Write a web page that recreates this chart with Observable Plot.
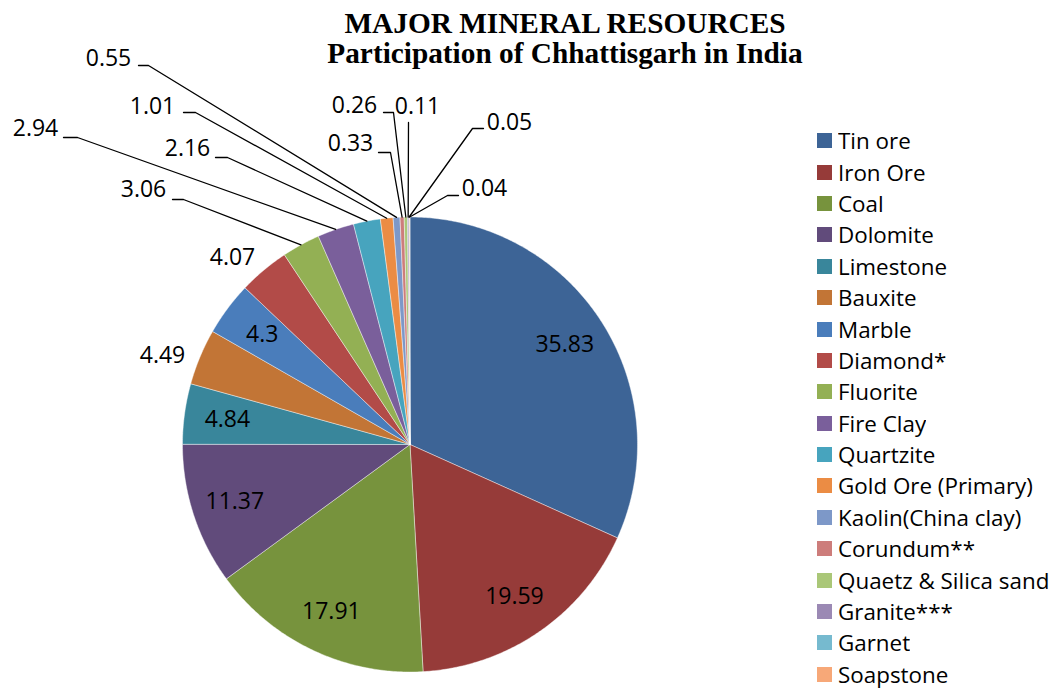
<!DOCTYPE html>
<html><head><meta charset="utf-8">
<script src="https://cdn.jsdelivr.net/npm/d3@7"></script>
<script src="https://cdn.jsdelivr.net/npm/@observablehq/plot@0.6"></script>
<style>
html,body{margin:0;padding:0;background:#fff;overflow:hidden;width:1059px;height:688px}
#wrap{position:relative;width:1059px;height:688px}
#chart{position:absolute;left:0;top:0}
#title{position:absolute;left:215px;width:700px;top:8px;text-align:center;font-family:"Liberation Serif","Times New Roman",serif;font-weight:bold;font-size:29.3px;line-height:30px;color:#000}
#legend{position:absolute;left:817px;top:125px;width:300px}
#legend > div{font-family:"Open Sans",sans-serif !important;font-size:22.4px !important;margin:0 !important;color:#000}
#legend > div > div{height:31.4px !important;padding:0 !important;display:flex;align-items:center}
#legend > div > div > svg{margin-right:6px !important}
</style></head>
<body><div id="wrap"><div id="chart"></div><div id="title">MAJOR MINERAL RESOURCES<br>Participation of Chhattisgarh in India</div><div id="legend"></div></div>
<script>
// ---- data ----
const minerals = ["Tin ore","Iron Ore","Coal","Dolomite","Limestone","Bauxite","Marble","Diamond*","Fluorite","Fire Clay","Quartzite","Gold Ore (Primary)","Kaolin(China clay)","Corundum**","Quaetz & Silica sand","Granite***","Garnet","Soapstone"];
const shares = [35.83,19.59,17.91,11.37,4.84,4.49,4.3,4.07,3.06,2.94,2.16,1.01,0.55,0.33,0.26,0.11,0.05,0.04];
const sliceColors = ["#3D6496","#963B39","#77933D","#614B7B","#39869B","#C27536","#4A7DBB","#B24B48","#93B054","#7A5F9B","#47A4BE","#EB8C44","#7D98C8","#CD7D7B","#AAC778","#9B89B4","#76BACF","#F7A878"];
const insideLabeled = ["Tin ore","Iron Ore","Coal","Dolomite","Limestone","Marble"];

// ---- layout (px offsets from pie centre: right, down) ----
const W = 1059, H = 688, CX = 409.5, CY = 444, R = 227.5;
const callouts = {
  "Bauxite": {text:[-247.5,-89]},
  "Diamond*": {text:[-177.5,-187]},
  "Fluorite": {text:[-266.5,-255], line:[[-226.5,-245],[-237.5,-245]]},
  "Fire Clay": {text:[-374.5,-316], line:[[-332.5,-307],[-346.5,-307]]},
  "Quartzite": {text:[-222.5,-296], line:[[-182.5,-287],[-194.5,-287]]},
  "Gold Ore (Primary)": {text:[-257.5,-338], line:[[-214.5,-332],[-226.5,-332]]},
  "Kaolin(China clay)": {text:[-301.5,-386], line:[[-261.5,-379],[-271.5,-379]]},
  "Corundum**": {text:[-59.5,-301], line:[[-19.5,-292],[-31.5,-292]]},
  "Quaetz & Silica sand": {text:[-55.5,-339], line:[[-16.5,-332],[-26.5,-332]]},
  "Granite***": {text:[7.5,-338], line:[[-1.5,-322]]},
  "Garnet": {text:[99.5,-322], line:[[62.5,-316],[73.5,-316]]},
  "Soapstone": {text:[74.5,-256], line:[[37.5,-249],[48.5,-249]]}
};

// ---- derived geometry ----
const total = d3.sum(shares);
const polar = (r, deg) => ({x: r*Math.sin(deg*Math.PI/180), y: r*Math.cos(deg*Math.PI/180)});
const px = ([dx, dy]) => ({x: dx/R, y: -dy/R});
let acc = 0;
const slices = minerals.map((name, i) => {
  const a0 = acc/total*360; acc += shares[i]; const a1 = acc/total*360;
  return {name, value: shares[i], a0, a1, mid: (a0+a1)/2};
});
const slicePts = slices.flatMap(s => {
  const n = Math.max(1, Math.ceil((s.a1 - s.a0)/0.5));
  const pts = [{name: s.name, x: 0, y: 0}];
  for (let k = 0; k <= n; k++) pts.push({name: s.name, ...polar(1, s.a0 + (s.a1 - s.a0)*k/n)});
  pts.push({name: s.name, x: 0, y: 0});
  return pts;
});
const labels = slices.map(s => {
  const p = insideLabeled.includes(s.name) ? polar(0.81, s.mid) : px(callouts[s.name].text);
  return {name: s.name, label: String(s.value), ...p};
});
const leaders = slices.filter(s => callouts[s.name] && callouts[s.name].line).flatMap(s =>
  [{name: s.name, ...polar(1, s.mid)}, ...callouts[s.name].line.map(q => ({name: s.name, ...px(q)}))]
);

const fontFamily = "'Open Sans', sans-serif";
const chart = Plot.plot({
  width: W, height: H, margin: 0,
  x: {domain: [-CX/R, (W-CX)/R], axis: null},
  y: {domain: [-(H-CY)/R, CY/R], axis: null},
  color: {domain: minerals, range: sliceColors},
  marks: [
    Plot.line(slicePts, {x: "x", y: "y", z: "name", fill: "name", stroke: "white", strokeWidth: 0.7, strokeOpacity: 0.6, curve: "linear"}),
    Plot.line(leaders, {x: "x", y: "y", z: "name", stroke: "black", strokeWidth: 1.3}),
    Plot.text(labels, {x: "x", y: "y", text: "label", fontSize: 23, fontFamily, fill: "black"})
  ]
});
document.getElementById("chart").append(chart);
document.getElementById("legend").append(Plot.legend({color: {domain: minerals, range: sliceColors}, columns: 1, swatchSize: 15}));
</script>
</body></html>
